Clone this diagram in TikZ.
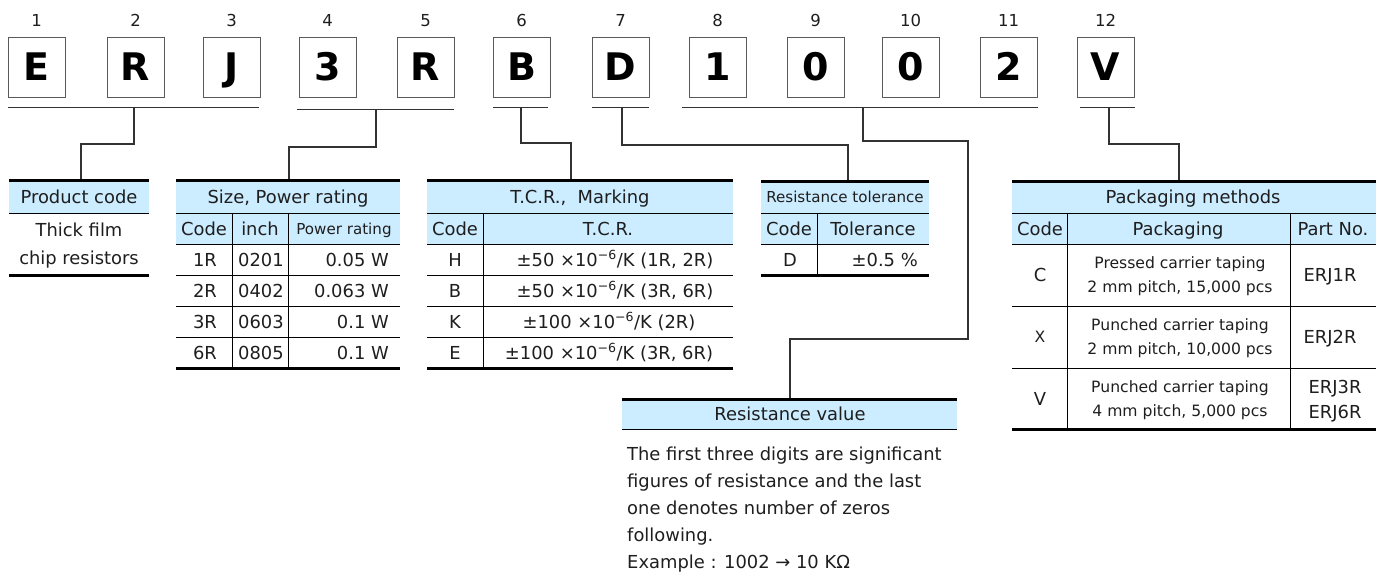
\documentclass[tikz,border=0pt]{standalone}
\usepackage{fontspec}
\setmainfont{DejaVu Sans}
\definecolor{hdrblue}{RGB}{204,236,255}
\definecolor{ink}{RGB}{30,30,30}
\definecolor{boxgray}{RGB}{90,90,90}
\definecolor{conngray}{RGB}{50,50,50}
\newcommand\fsN{\fontsize{17.9}{21}\selectfont}
\newcommand\fsS{\fontsize{15.1}{18}\selectfont}
\newcommand\fsP{\fontsize{15.6}{18}\selectfont}
\newcommand\fsB{\fontsize{38}{44}\selectfont\bfseries}
\newcommand\fsL{\fontsize{16.5}{18}\selectfont}
\tikzset{
 cell/.style={font=\fsN, text=ink, inner sep=0pt, text height=13pt, text depth=0pt},
 scell/.style={font=\fsS, text=ink, inner sep=0pt, text height=11pt, text depth=0pt},
 pcell/.style={font=\fsP, text=ink, inner sep=0pt, text height=11.4pt, text depth=0pt},
 letter/.style={draw=boxgray, line width=1pt, minimum width=57pt, minimum height=60pt, font=\fsB, text=black, inner sep=0pt, text height=27.7pt, text depth=0pt},
 numlbl/.style={font=\fsL, text=ink, inner sep=0pt, text height=12pt, text depth=0pt},
 thinl/.style={line width=1pt, black},
 thickl/.style={line width=3pt, black},
 uline/.style={line width=1pt, conngray},
 conn/.style={line width=1.3pt, conngray},
}
\begin{document}
\begin{tikzpicture}[x=1pt,y=-1pt]
\useasboundingbox (0,0) rectangle (1379,579);

% ---- code boxes and position numbers
\foreach \i/\x/\c in {1/36.5/E,2/135.5/R,3/231.5/J,4/327.5/3,5/425.5/R,6/521.5/B,7/620.5/D,8/717.5/1,9/815.5/0,10/910.5/0,11/1008.5/2,12/1105.5/V}{
  \node[letter] (b\i) at (\x,67) {\c};
  \node[numlbl] (n\i) at (\x,20.5) {\i};
}

% ---- underlines
\draw[uline] (8,107) -- (259,107);
\draw[uline] (297,109) -- (454,109);
\draw[uline] (493,107) -- (548,107);
\draw[uline] (592,107) -- (649,107);
\draw[uline] (682,107) -- (1038,107);
\draw[uline] (1080,107) -- (1135,107);
\coordinate (u1) at (134,107);
\coordinate (u2) at (376,109);
\coordinate (u3) at (521,107);
\coordinate (u4) at (622,107);
\coordinate (u5) at (863,107);
\coordinate (u6) at (1109,107);

% ---- table tops (connector ends)
\coordinate (t1) at (81,180);
\coordinate (t2) at (289,180);
\coordinate (t3) at (571,181);
\coordinate (t4) at (848,181);
\coordinate (k5) at (968,339);
\coordinate (t5) at (790,399);
\coordinate (t6) at (1179,181);

% ---- connectors
\draw[conn] (u1) -- ++(0,37) -| (t1);
\draw[conn] (u2) -- ++(0,38) -| (t2);
\draw[conn] (u3) -- ++(0,36) -| (t3);
\draw[conn] (u4) -- ++(0,38) -| (t4);
\draw[conn] (u5) -- ++(0,34) -| (k5) -| (t5);
\draw[conn] (u6) -- ++(0,37) -| (t6);

% ---- Product code
\fill[hdrblue] (9,180) rectangle (149,213);
\draw[thinl] (9,213) -- (149,213);
\draw[thickl] (9,180) -- (149,180) (9,275) -- (149,275);
\node[cell] (pcH) at (79,196.5) {Product code};
\node[cell] (pc1) at (79,230) {Thick film};
\node[cell] (pc2) at (79,257.5) {chip resistors};

% ---- Size, Power rating
\fill[hdrblue] (176,180) rectangle (400,244);
\draw[thinl] (176,213)--(400,213) (176,244)--(400,244) (176,275)--(400,275)
  (176,306)--(400,306) (176,337)--(400,337) (232,213)--(232,368) (288,213)--(288,368);
\draw[thickl] (176,180)--(400,180) (176,368)--(400,368);
\node[cell] (szH) at (288,196.5) {Size, Power rating};
\node[cell] (szC) at (204,228.5) {Code};
\node[cell] (szI) at (260,228.5) {inch};
\node[scell] (szP) at (344,228.5) {Power rating};
\foreach \j/\y/\a/\b/\c in {1/259.5/1R/0201/0.05 W,2/290.5/2R/0402/0.063 W,3/321.5/3R/0603/0.1 W,4/352.5/6R/0805/0.1 W}{
  \node[cell] (sza\j) at (205,\y) {\a};
  \node[cell] (szb\j) at (261,\y) {\b};
  \node[cell,anchor=east] (szc\j) at (389,\y) {\c};
}

% ---- T.C.R., Marking
\fill[hdrblue] (427,180) rectangle (733,244);
\draw[thinl] (427,213)--(733,213) (427,244)--(733,244) (427,275)--(733,275)
  (427,306)--(733,306) (427,337)--(733,337) (483,213)--(483,368);
\draw[thickl] (427,180)--(733,180) (427,368)--(733,368);
\node[cell] (tcH) at (580,196.5) {T.C.R.,\ \ Marking};
\node[cell] (tcC) at (455,228.5) {Code};
\node[cell] (tcT) at (608,228.5) {T.C.R.};
\foreach \j/\y/\a/\x/\b in {1/259.5/H/615/{±50 ×10\textsuperscript{−6}/K (1R, 2R)},2/290.5/B/615/{±50 ×10\textsuperscript{−6}/K (3R, 6R)},3/321.5/K/609/{±100 ×10\textsuperscript{−6}/K (2R)},4/352.5/E/609/{±100 ×10\textsuperscript{−6}/K (3R, 6R)}}{
  \node[cell] (tca\j) at (455,\y) {\a};
  \node[cell] (tcb\j) at (\x,\y) {\b};
}

% ---- Resistance tolerance
\fill[hdrblue] (761,181) rectangle (929,244);
\draw[thinl] (761,213)--(929,213) (761,244)--(929,244) (817,213)--(817,275);
\draw[thickl] (761,181)--(929,181) (761,275)--(929,275);
\node[scell] (toH) at (845,196.5) {Resistance tolerance};
\node[cell] (toC) at (789,228.5) {Code};
\node[cell] (toT) at (873,228.5) {Tolerance};
\node[cell] (toa) at (790,259.5) {D};
\node[cell,anchor=east] (tob) at (918,259.5) {±0.5 \%};

% ---- Packaging methods
\fill[hdrblue] (1012,181) rectangle (1376,244);
\draw[thinl] (1012,213)--(1376,213) (1012,244)--(1376,244) (1012,306)--(1376,306)
  (1012,368)--(1376,368) (1067,213)--(1067,429) (1290,213)--(1290,429);
\draw[thickl] (1012,181)--(1376,181) (1012,429)--(1376,429);
\node[cell] (pkH) at (1193,196.5) {Packaging methods};
\node[cell] (pkC) at (1040,228.5) {Code};
\node[cell] (pkP) at (1178,228.5) {Packaging};
\node[cell] (pkN) at (1333,228.5) {Part No.};
\node[cell] (pka1) at (1040,275) {C};
\node[pcell] (pkb1) at (1180,263) {Pressed carrier taping};
\node[pcell] (pkc1) at (1180,287) {2 mm pitch, 15,000 pcs};
\node[cell] (pkd1) at (1330,275) {ERJ1R};
\node[pcell] (pka2) at (1040,337) {X};
\node[pcell] (pkb2) at (1180,325) {Punched carrier taping};
\node[pcell] (pkc2) at (1180,349) {2 mm pitch, 10,000 pcs};
\node[cell] (pkd2) at (1330,337) {ERJ2R};
\node[cell] (pka3) at (1040,398.5) {V};
\node[pcell] (pkb3) at (1180,387) {Punched carrier taping};
\node[pcell] (pkc3) at (1180,411) {4 mm pitch, 5,000 pcs};
\node[cell] (pkd3) at (1335,386.5) {ERJ3R};
\node[cell] (pke3) at (1335,411.5) {ERJ6R};

% ---- Resistance value
\fill[hdrblue] (622,399) rectangle (957,429);
\draw[thinl] (622,429)--(957,429);
\draw[thickl] (622,399)--(957,399);
\node[cell] (rvH) at (790,414) {Resistance value};
\node[cell,anchor=west] (rv1) at (627,453.5) {The first three digits are significant};
\node[cell,anchor=west] (rv2) at (627,480.5) {figures of resistance and the last};
\node[cell,anchor=west] (rv3) at (627,507.5) {one denotes number of zeros};
\node[cell,anchor=west] (rv4) at (627,534.5) {following.};
\node[cell,anchor=west] (rv5) at (627,561.5) {Example : 1002 → 10 KΩ};
\end{tikzpicture}
\end{document}
